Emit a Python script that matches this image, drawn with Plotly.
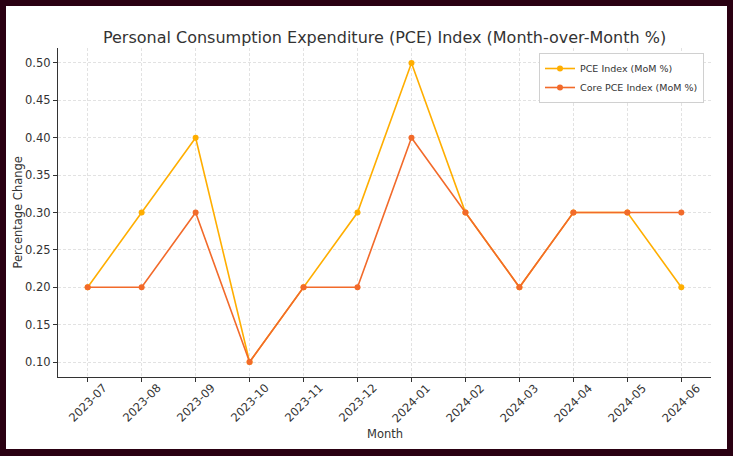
import plotly.graph_objects as go

months = ["2023-07", "2023-08", "2023-09", "2023-10", "2023-11", "2023-12",
          "2024-01", "2024-02", "2024-03", "2024-04", "2024-05", "2024-06"]
pce = [0.2, 0.3, 0.4, 0.1, 0.2, 0.3, 0.5, 0.3, 0.2, 0.3, 0.3, 0.2]
core_pce = [0.2, 0.2, 0.3, 0.1, 0.2, 0.2, 0.4, 0.3, 0.2, 0.3, 0.3, 0.3]
y_ticks = [0.10, 0.15, 0.20, 0.25, 0.30, 0.35, 0.40, 0.45, 0.50]

FONT = "DejaVu Sans"
TXT = "#333333"
W, H = 733, 456
L, R, T, B = 58, 22, 48, 79
pw, ph = W - L - R, H - T - B

def px_x(p):
    return (p - L) / pw

def px_y(p):
    return (H - B - p) / ph

xs = list(range(len(months)))

fig = go.Figure()
fig.add_trace(go.Scatter(
    x=xs, y=pce, mode="lines+markers",
    name="PCE Index (MoM %)",
    line=dict(color="#FFAE00", width=1.6),
    marker=dict(color="#FFAE00", size=6),
))
fig.add_trace(go.Scatter(
    x=xs, y=core_pce, mode="lines+markers",
    name="Core PCE Index (MoM %)",
    line=dict(color="#F26A2A", width=1.6),
    marker=dict(color="#F26A2A", size=6),
))

fig.add_shape(type="rect", xref="paper", yref="paper",
              x0=px_x(6), x1=px_x(727), y0=px_y(449), y1=px_y(6),
              fillcolor="white", line=dict(width=0), layer="below")

# rotated tick labels centred on ticks (matplotlib style)
for i, m in enumerate(months):
    fig.add_annotation(x=i, xref="x", y=0, yref="paper", text=m,
                       textangle=-45, showarrow=False,
                       xanchor="center", yanchor="middle", yshift=-26,
                       font=dict(size=11.5, color=TXT, family=FONT))

fig.add_annotation(x=0.5, xref="paper", y=px_y(434), yref="paper", text="Month",
                   showarrow=False, xanchor="center", yanchor="middle",
                   font=dict(size=11.5, color=TXT, family=FONT))
fig.add_annotation(x=px_x(17), xref="paper", y=0.5, yref="paper",
                   text="Percentage Change", textangle=-90,
                   showarrow=False, xanchor="center", yanchor="middle",
                   font=dict(size=11.5, color=TXT, family=FONT))

fig.update_layout(
    width=W, height=H,
    margin=dict(l=L, r=R, t=T, b=B, autoexpand=False),
    paper_bgcolor="#2A0012",
    plot_bgcolor="rgba(0,0,0,0)",
    font=dict(family=FONT, color=TXT, size=12),
    title=dict(text="Personal Consumption Expenditure (PCE) Index (Month-over-Month %)",
               x=0.5, xref="paper", xanchor="center",
               y=1 - 37 / H, yref="container", yanchor="middle",
               font=dict(size=16, color=TXT)),
    showlegend=True,
    legend=dict(x=px_x(704), xanchor="right", y=px_y(53), yanchor="top",
                bgcolor="white", bordercolor="#D0D0D0", borderwidth=1,
                font=dict(size=9.5, color=TXT),
                itemwidth=30, tracegroupgap=0),
)

grid = dict(showgrid=True, gridcolor="#E2E2E2", griddash="3px,2px", gridwidth=1)

fig.update_xaxes(
    tickmode="array", tickvals=xs, ticktext=months, showticklabels=False,
    range=[-0.55, 11.55], automargin=False,
    showline=True, linecolor=TXT, linewidth=1.2,
    ticks="outside", ticklen=4, tickcolor=TXT,
    zeroline=False,
    **grid,
)
fig.update_yaxes(
    tickmode="array", tickvals=y_ticks, ticktext=[f"{v:.2f}" for v in y_ticks],
    range=[0.08, 0.52], automargin=False,
    showline=True, linecolor=TXT, linewidth=1.2,
    ticks="outside", ticklen=4, tickcolor=TXT,
    zeroline=False, tickfont=dict(size=11.5, color=TXT),
    **grid,
)

fig.write_html("out.html",
               config={"displayModeBar": False},
               post_script="document.body.style.margin='0';document.body.style.padding='0';")
